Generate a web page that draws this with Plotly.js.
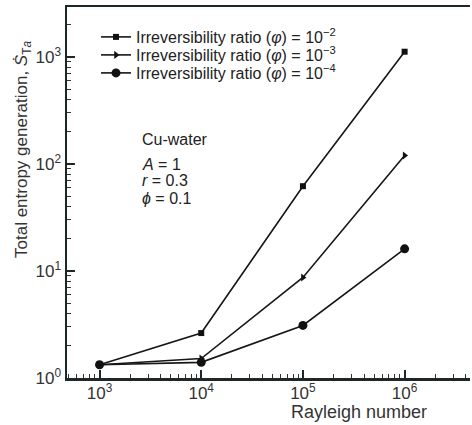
<!DOCTYPE html>
<html><head><meta charset="utf-8">
<script src="https://cdn.plot.ly/plotly-3.0.1.min.js"></script>
<style>html,body{margin:0;padding:0;background:#fff}#chart{width:472px;height:425px}</style>
</head><body><div id="chart"></div>
<script>
const rayleigh = [1e3, 1e4, 1e5, 1e6];
const seriesNames = [
  'Irreversibility ratio (<i>φ</i>) = 10<sup>−2</sup>',
  'Irreversibility ratio (<i>φ</i>) = 10<sup>−3</sup>',
  'Irreversibility ratio (<i>φ</i>) = 10<sup>−4</sup>'
];
const sPhi2 = [1.33, 2.63, 62, 1120];
const sPhi3 = [1.33, 1.52, 8.7, 120];
const sPhi4 = [1.33, 1.40, 3.1, 16.1];
const xTickVals = [1e3, 1e4, 1e5, 1e6];
const xTickText = ['10<sup>3</sup>', '10<sup>4</sup>', '10<sup>5</sup>', '10<sup>6</sup>'];
const yTickVals = [1, 10, 100, 1000];
const yTickText = ['10<sup>0</sup>', '10<sup>1</sup>', '10<sup>2</sup>', '10<sup>3</sup>'];
const noteLines = ['Cu-water', '<i>A</i> = 1', '<i>r</i> = 0.3', '<i>ϕ</i> = 0.1'];

function minorVals(lo, hi) {
  const v = [];
  for (let e = lo; e <= hi; e++) for (let m = 2; m <= 9; m++) v.push(m * Math.pow(10, e));
  return v;
}

const lineStyle = {color: '#161616', width: 1.6};
const legendIds = ['legend', 'legend2', 'legend3'];
const traces = [
  {x: rayleigh, y: sPhi2, name: seriesNames[0], mode: 'lines+markers', line: lineStyle,
   marker: {symbol: 'square', size: 6, color: '#111'}, legend: legendIds[0]},
  {x: rayleigh, y: sPhi3, name: seriesNames[1], mode: 'lines+markers', line: lineStyle,
   marker: {symbol: 'triangle-right', size: 7, color: '#111'}, legend: legendIds[1]},
  {x: rayleigh, y: sPhi4, name: seriesNames[2], mode: 'lines+markers', line: lineStyle,
   marker: {symbol: 'circle', size: 9, color: '#111'}, legend: legendIds[2]}
];

const fam = 'Liberation Sans, Arial, sans-serif';
const axisCommon = {
  type: 'log', showgrid: false, zeroline: false,
  showline: true, linecolor: '#1c2828', linewidth: 2.5,
  ticks: 'inside', ticklen: 8, tickwidth: 2, tickcolor: '#1c2828',
  tickmode: 'array',
  tickfont: {family: fam, size: 17, color: '#333'},
  minor: {ticks: 'inside', ticklen: 4, tickwidth: 1, tickcolor: '#333', tickmode: 'array', showgrid: false}
};

const annotations = [
  {xref: 'paper', yref: 'paper', x: (359 - 67) / 403, y: (378 - 412) / 371, text: 'Rayleigh number',
   showarrow: false, font: {family: fam, size: 18, color: '#333'}, xanchor: 'center', yanchor: 'middle'},
  {xref: 'paper', yref: 'paper', x: (23 - 67) / 403, y: (378 - 150) / 371,
   text: 'Total entropy generation, <i>Ṡ</i><sub>T<i>a</i></sub>', textangle: -90,
   showarrow: false, font: {family: fam, size: 17, color: '#333'}, xanchor: 'center', yanchor: 'middle'}
];
const noteY = [139, 164, 181, 198];
noteLines.forEach((t, i) => annotations.push({
  xref: 'paper', yref: 'paper', x: (141 - 67) / 403, y: (378 - noteY[i]) / 371, text: t, borderpad: 0,
  showarrow: false, font: {family: fam, size: 16, color: '#222'}, xanchor: 'left', yanchor: 'middle'
}));

const legendRowY = [37, 55, 73];
const layout = {
  width: 472, height: 425,
  margin: {l: 67, r: 2, t: 7, b: 47},
  paper_bgcolor: '#fff', plot_bgcolor: '#fff',
  font: {family: fam, size: 16, color: '#333'},
  showlegend: true,
  xaxis: Object.assign({}, axisCommon, {range: [2.68, 6.643], mirror: true,
    tickvals: xTickVals, ticktext: xTickText, ticklabelstandoff: -2,
    minor: Object.assign({}, axisCommon.minor, {tickvals: minorVals(2, 6)})}),
  yaxis: Object.assign({}, axisCommon, {range: [0, 3.467],
    tickvals: yTickVals, ticktext: yTickText,
    minor: Object.assign({}, axisCommon.minor, {tickvals: minorVals(0, 3)})}),
  annotations: annotations
};
legendIds.forEach((id, i) => {
  layout[id] = {x: (96 - 67) / 403, y: (378 - legendRowY[i]) / 371, xanchor: 'left', yanchor: 'middle',
    bgcolor: 'rgba(0,0,0,0)', borderwidth: 0, font: {family: fam, size: 16, color: '#222'}, itemwidth: 30};
});
Plotly.newPlot('chart', traces, layout, {displayModeBar: false, staticPlot: true});
</script></body></html>
